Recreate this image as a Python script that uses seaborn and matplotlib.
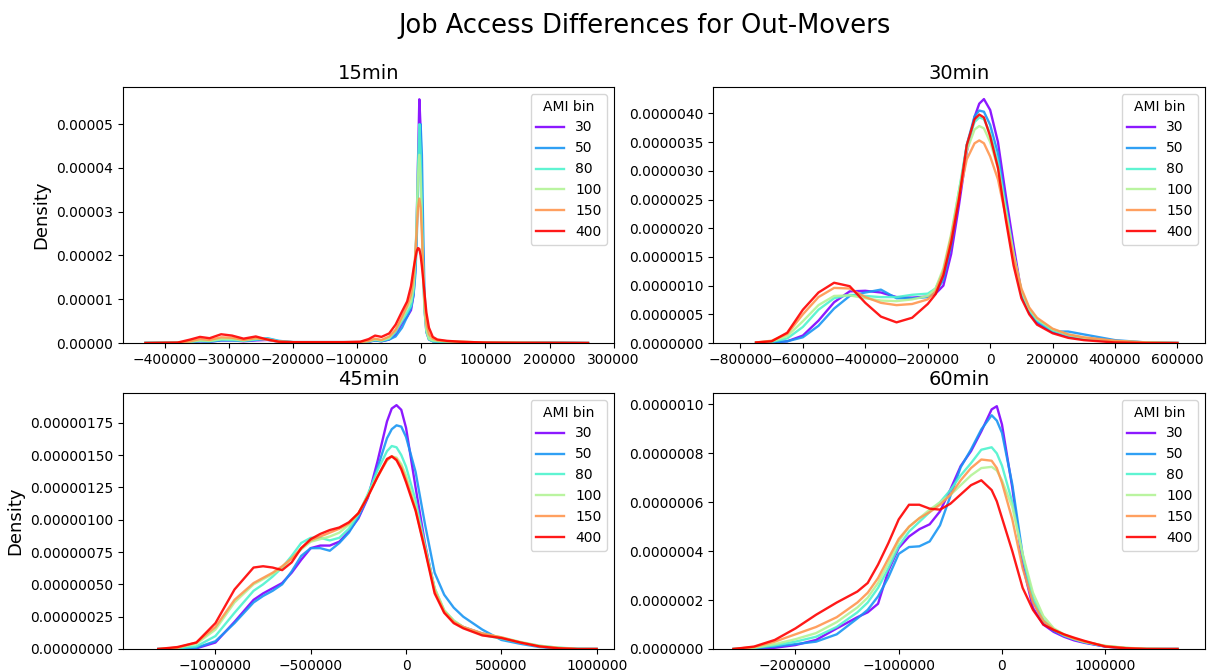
import numpy as np
import pandas as pd
import matplotlib
matplotlib.use("Agg")
import matplotlib.pyplot as plt
import seaborn as sns
from matplotlib.ticker import MultipleLocator, FormatStrFormatter, FuncFormatter

# AMI bins (hue levels)
ami_bins = ["30", "50", "80", "100", "150", "400"]

# ---- 15min panel: x grid and density curves (units of 1e-5) ----
x15 = [-430000, -380000, -360000, -345000, -330000, -312000, -295000, -277000, -258000, -240000,
       -222000, -200000, -160000, -120000, -95000, -82000, -72000, -62000, -50000, -40000,
       -30000, -22000, -16000, -12000, -9000, -7000, -5000, -3000, -1000, 1000,
       3000, 5000, 8000, 12000, 18000, 25000, 40000, 60000, 100000, 150000, 200000, 260000]
d15_30 = [0.0, 0.005, 0.02, 0.04, 0.03, 0.06, 0.06, 0.04, 0.06, 0.07, 0.03, 0.02,
          0.02, 0.02, 0.02, 0.03, 0.06, 0.04, 0.08, 0.2, 0.45, 0.6,
          0.75, 1.1, 1.8, 2.8, 4.2, 5.57, 4.9,
          3.3, 1.8, 0.8, 0.25, 0.08, 0.04, 0.03,
          0.02, 0.02, 0.01, 0.005, 0.01, 0.0]
d15_50 = [0.005, 0.01, 0.02, 0.04, 0.03, 0.06, 0.06, 0.05, 0.07, 0.11, 0.05, 0.02,
          0.02, 0.02, 0.02, 0.03, 0.06, 0.04, 0.08, 0.15, 0.35, 0.6,
          0.8, 1.1, 1.6, 2.4, 3.5, 4.6, 5.0,
          4.3, 2.6, 1.2, 0.35, 0.1, 0.04, 0.03,
          0.02, 0.02, 0.01, 0.005, 0.01, 0.0]
d15_80 = [0.005, 0.01, 0.03, 0.05, 0.04, 0.08, 0.07, 0.05, 0.08, 0.1, 0.04, 0.02,
          0.02, 0.02, 0.02, 0.04, 0.07, 0.05, 0.1, 0.25, 0.5, 0.7,
          0.85, 1.2, 1.9, 2.9, 4.1, 5.0, 4.4,
          3.0, 1.6, 0.75, 0.25, 0.08, 0.04, 0.03,
          0.02, 0.02, 0.01, 0.005, 0.005, 0.0]
d15_100 = [0.0, 0.005, 0.03, 0.06, 0.05, 0.09, 0.09, 0.06, 0.1, 0.08, 0.03, 0.02,
           0.02, 0.02, 0.02, 0.04, 0.08, 0.06, 0.12, 0.3, 0.55, 0.8,
           0.95, 1.3, 2.0, 2.8, 3.8, 4.3, 3.8,
           2.7, 1.6, 0.8, 0.3, 0.1, 0.06, 0.05,
           0.04, 0.03, 0.01, 0.01, 0.005, 0.0]
d15_150 = [0.0, 0.005, 0.04, 0.09, 0.07, 0.13, 0.12, 0.07, 0.11, 0.08, 0.03, 0.02,
           0.01, 0.02, 0.02, 0.05, 0.1, 0.07, 0.15, 0.3, 0.6, 0.85,
           1.1, 1.5, 2.1, 2.6, 3.1, 3.3, 3.1,
           2.5, 1.7, 1.0, 0.45, 0.2, 0.1, 0.06,
           0.04, 0.03, 0.01, 0.005, 0.003, 0.0]
d15_400 = [0.0, 0.01, 0.08, 0.14, 0.11, 0.2, 0.17, 0.1, 0.15, 0.08, 0.03, 0.02,
           0.02, 0.02, 0.03, 0.09, 0.17, 0.14, 0.22, 0.42, 0.72, 0.95,
           1.3, 1.7, 1.95, 2.1, 2.17, 2.15, 2.0,
           1.75, 1.45, 1.15, 0.7, 0.35, 0.14, 0.08,
           0.05, 0.03, 0.01, 0.005, 0.003, 0.0]

# ---- 30min panel (units of 1e-6) ----
x30 = [-750000, -700000, -650000, -600000, -550000, -500000, -450000, -400000, -350000, -300000,
       -250000, -200000, -175000, -150000, -125000, -100000, -75000, -50000, -35000, -20000,
       0, 25000, 50000, 75000, 100000, 125000, 150000, 200000, 250000, 300000,
       400000, 500000, 600000]
d30_30 = [0.0, 0.01, 0.03, 0.13, 0.39, 0.71, 0.90, 0.91, 0.88, 0.80, 0.79, 0.81,
          0.86, 1.0, 1.55, 2.4, 3.33, 3.94, 4.17, 4.25,
          4.06, 3.5, 2.57, 1.70, 0.88, 0.53, 0.35,
          0.19, 0.12, 0.07, 0.02, 0.005, 0.0]
d30_50 = [0.0, 0.01, 0.03, 0.1, 0.3, 0.6, 0.82, 0.88, 0.93, 0.78, 0.78, 0.8,
          0.88, 1.1, 1.7, 2.55, 3.45, 3.95, 4.05, 4.03,
          3.8, 3.3, 2.4, 1.55, 0.85, 0.55, 0.38,
          0.2, 0.2, 0.15, 0.05, 0.01, 0.0]
d30_80 = [0.0, 0.02, 0.08, 0.28, 0.58, 0.78, 0.84, 0.82, 0.80, 0.80, 0.84, 0.86,
          0.95, 1.25, 1.85, 2.65, 3.45, 3.85, 3.93, 3.9,
          3.65, 3.15, 2.35, 1.55, 0.9, 0.58, 0.4,
          0.22, 0.13, 0.08, 0.03, 0.01, 0.0]
d30_100 = [0.01, 0.03, 0.12, 0.38, 0.66, 0.82, 0.83, 0.78, 0.74, 0.73, 0.76, 0.82,
           0.95, 1.3, 1.9, 2.65, 3.35, 3.72, 3.78, 3.74,
           3.5, 3.05, 2.3, 1.55, 0.92, 0.6, 0.42,
           0.24, 0.15, 0.09, 0.03, 0.01, 0.0]
d30_150 = [0.01, 0.04, 0.16, 0.5, 0.8, 0.96, 0.95, 0.8, 0.7, 0.66, 0.68, 0.76,
           0.9, 1.25, 1.85, 2.55, 3.2, 3.48, 3.53, 3.48,
           3.25, 2.85, 2.2, 1.5, 0.95, 0.62, 0.44,
           0.25, 0.15, 0.1, 0.04, 0.01, 0.0]
d30_400 = [0.01, 0.03, 0.18, 0.58, 0.88, 1.05, 0.99, 0.70, 0.46, 0.36, 0.44, 0.68,
           0.85, 1.18, 1.75, 2.5, 3.45, 3.9, 3.98, 3.93,
           3.6, 3.05, 2.15, 1.35, 0.78, 0.5, 0.32,
           0.17, 0.09, 0.05, 0.01, 0.0, 0.0]

# ---- 45min panel (units of 1e-6) ----
x45 = [-1300000, -1200000, -1100000, -1000000, -900000, -800000,
       -750000, -700000, -650000, -600000, -550000, -500000, -450000, -400000, -350000, -300000,
       -250000, -200000, -150000, -100000, -75000, -50000, -25000, 0,
       50000, 100000, 150000, 200000, 250000, 300000,
       400000, 500000, 600000, 700000, 800000, 900000, 1000000]
d45_30 = [0.0, 0.0, 0.005, 0.05, 0.21, 0.38,
          0.43, 0.47, 0.51, 0.59, 0.69, 0.78, 0.8, 0.8, 0.83, 0.91, 1.01, 1.17, 1.45, 1.76,
          1.86, 1.886, 1.85, 1.71,
          1.25, 0.81, 0.46, 0.29, 0.21, 0.17,
          0.12, 0.085, 0.05, 0.02, 0.006, 0.0, 0.0]
d45_50 = [0.0, 0.0, 0.01, 0.06, 0.2, 0.36,
          0.41, 0.45, 0.5, 0.6, 0.72, 0.78, 0.78, 0.76, 0.82, 0.9, 1.02, 1.18, 1.4, 1.63,
          1.7, 1.73, 1.72, 1.64,
          1.37, 0.96, 0.59, 0.42, 0.32, 0.25,
          0.15, 0.07, 0.04, 0.015, 0.005, 0.0, 0.0]
d45_80 = [0.0, 0.005, 0.02, 0.1, 0.28, 0.45,
          0.5, 0.56, 0.63, 0.72, 0.82, 0.86, 0.86, 0.84, 0.86, 0.93, 1.04, 1.2, 1.38, 1.53,
          1.57, 1.56, 1.5, 1.41,
          1.15, 0.8, 0.47, 0.3, 0.22, 0.17,
          0.11, 0.08, 0.05, 0.025, 0.01, 0.003, 0.0]
d45_100 = [0.0, 0.01, 0.04, 0.15, 0.36, 0.5,
           0.54, 0.58, 0.63, 0.7, 0.77, 0.83, 0.85, 0.87, 0.9, 0.96, 1.05, 1.19, 1.34, 1.46,
           1.49, 1.48, 1.43, 1.34,
           1.1, 0.78, 0.47, 0.3, 0.22, 0.17,
           0.12, 0.09, 0.055, 0.025, 0.01, 0.0, 0.0]
d45_150 = [0.0, 0.01, 0.05, 0.17, 0.38, 0.51,
           0.55, 0.59, 0.64, 0.7, 0.78, 0.84, 0.87, 0.9, 0.93, 0.97, 1.05, 1.18, 1.33, 1.46,
           1.49, 1.47, 1.41, 1.31,
           1.08, 0.77, 0.45, 0.29, 0.21, 0.17,
           0.12, 0.09, 0.05, 0.02, 0.008, 0.0, 0.0]
d45_400 = [0.0, 0.015, 0.05, 0.2, 0.46, 0.63,
           0.64, 0.63, 0.61, 0.67, 0.78, 0.85, 0.89, 0.92, 0.94, 0.98, 1.05, 1.18, 1.33, 1.47,
           1.49, 1.46, 1.39, 1.29,
           1.07, 0.76, 0.43, 0.28, 0.2, 0.16,
           0.105, 0.085, 0.05, 0.02, 0.005, 0.0, 0.0]

# ---- 60min panel (units of 1e-6) ----
x60 = [-2600000, -2400000, -2200000, -2000000, -1800000, -1600000,
       -1400000, -1300000, -1200000, -1100000, -1000000, -900000, -800000, -700000, -600000,
       -500000, -400000, -300000, -200000, -100000, -50000, 0,
       100000, 200000, 300000, 400000, 500000, 600000, 700000, 800000,
       1000000, 1200000, 1400000, 1600000, 1700000]
d60_30 = [0.0, 0.0, 0.005, 0.016, 0.037, 0.084,
          0.13, 0.15, 0.185, 0.32, 0.413, 0.46, 0.49, 0.51, 0.563, 0.652, 0.748, 0.809, 0.89, 0.98,
          0.993, 0.918,
          0.659, 0.345, 0.168, 0.1, 0.07, 0.05, 0.035, 0.025,
          0.01, 0.003, 0.0, 0.0, 0.0]
d60_50 = [0.0, 0.003, 0.01, 0.02, 0.03, 0.06,
          0.125, 0.16, 0.215, 0.293, 0.389, 0.417, 0.42, 0.44, 0.506, 0.625, 0.743, 0.816, 0.898, 0.956,
          0.934, 0.884,
          0.673, 0.386, 0.195, 0.113, 0.075, 0.055, 0.04, 0.027,
          0.01, 0.003, 0.0, 0.0, 0.0]
d60_80 = [0.0, 0.005, 0.015, 0.03, 0.05, 0.09,
          0.15, 0.19, 0.25, 0.33, 0.42, 0.48, 0.52, 0.56, 0.6, 0.65, 0.71, 0.76, 0.815, 0.825,
          0.8, 0.75,
          0.6, 0.38, 0.21, 0.12, 0.08, 0.055, 0.04, 0.028,
          0.012, 0.004, 0.001, 0.0, 0.0]
d60_100 = [0.0, 0.005, 0.02, 0.04, 0.065, 0.11,
           0.17, 0.21, 0.27, 0.35, 0.44, 0.5, 0.535, 0.57, 0.6, 0.63, 0.67, 0.71, 0.74, 0.745,
           0.73, 0.69,
           0.58, 0.39, 0.23, 0.135, 0.085, 0.06, 0.042, 0.03,
           0.013, 0.005, 0.001, 0.0, 0.0]
d60_150 = [0.0, 0.008, 0.03, 0.06, 0.09, 0.13,
           0.19, 0.23, 0.29, 0.37, 0.45, 0.5, 0.535, 0.56, 0.59, 0.63, 0.69, 0.74, 0.775, 0.77,
           0.74, 0.68,
           0.53, 0.33, 0.19, 0.115, 0.08, 0.058, 0.042, 0.03,
           0.012, 0.004, 0.001, 0.0, 0.0]
d60_400 = [0.0, 0.01, 0.037, 0.084, 0.14, 0.19,
           0.235, 0.27, 0.345, 0.433, 0.53, 0.59, 0.59, 0.574, 0.57, 0.594, 0.632, 0.67, 0.69, 0.65,
           0.604, 0.536,
           0.4, 0.25, 0.16, 0.1, 0.078, 0.06, 0.046, 0.033,
           0.01, 0.003, 0.0, 0.0, 0.0]


def long_frame(grid, curves, unit):
    parts = []
    for label, vals in zip(ami_bins, curves):
        parts.append(pd.DataFrame({"x": grid, "Density": np.array(vals) * unit, "AMI bin": label}))
    return pd.concat(parts, ignore_index=True)


panels = [
    ("15min", long_frame(x15, [d15_30, d15_50, d15_80, d15_100, d15_150, d15_400], 1e-5),
     (-465000, 300500), 5.85e-5, 100000, 1e-5, "%.5f"),
    ("30min", long_frame(x30, [d30_30, d30_50, d30_80, d30_100, d30_150, d30_400], 1e-6),
     (-888000, 688000), 4.46e-6, 200000, 5e-7, "%.7f"),
    ("45min", long_frame(x45, [d45_30, d45_50, d45_80, d45_100, d45_150, d45_400], 1e-6),
     (-1485000, 1091000), 1.98e-6, 500000, 2.5e-7, "%.8f"),
    ("60min", long_frame(x60, [d60_30, d60_50, d60_80, d60_100, d60_150, d60_400], 1e-6),
     (-2798000, 1965000), 1.047e-6, 1000000, 2e-7, "%.7f"),
]

palette = [tuple(c) for c in plt.cm.rainbow(np.linspace(0, 1, len(ami_bins)))]

fig = plt.figure(figsize=(12.07, 6.71), dpi=100)
positions = [
    [0.1019, 0.4888, 0.4068, 0.3815],
    [0.5907, 0.4888, 0.4076, 0.3815],
    [0.1019, 0.0328, 0.4068, 0.3815],
    [0.5907, 0.0328, 0.4076, 0.3815],
]

minus_fmt = FuncFormatter(lambda v, p: f"{v:.0f}".replace("-", "\u2212"))

for i, (title, df, xlim, ytop, xstep, ystep, yfmt) in enumerate(panels):
    ax = fig.add_axes(positions[i])
    sns.lineplot(data=df, x="x", y="Density", hue="AMI bin", hue_order=ami_bins,
                 palette=palette, linewidth=1.7, alpha=0.9, ax=ax)
    ax.set_xlim(*xlim)
    ax.set_ylim(0, ytop)
    ax.xaxis.set_major_locator(MultipleLocator(xstep))
    ax.xaxis.set_major_formatter(minus_fmt)
    ax.yaxis.set_major_locator(MultipleLocator(ystep))
    ax.yaxis.set_major_formatter(FormatStrFormatter(yfmt))
    ax.set_title(title, fontsize=14)
    ax.set_xlabel("")
    if i % 2 == 0:
        ax.set_ylabel("Density", fontsize=13)
    else:
        ax.set_ylabel("")
    sns.move_legend(ax, "upper right", title="AMI bin", fontsize=10, title_fontsize=10)

fig.suptitle("Job Access Differences for Out-Movers", fontsize=18.5, x=0.534, y=0.98)
fig.savefig("out.png", dpi=100)
